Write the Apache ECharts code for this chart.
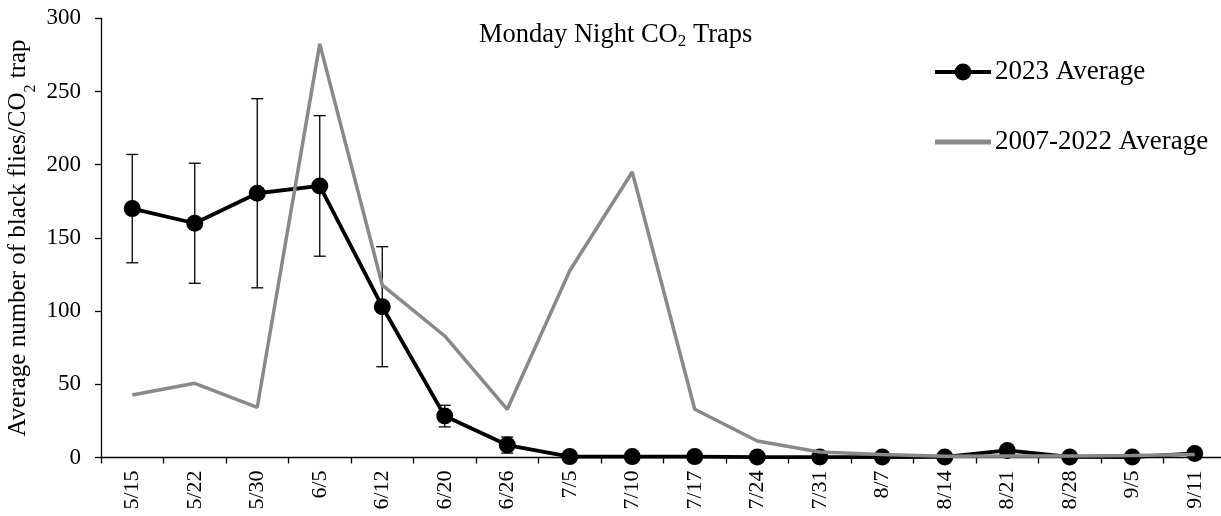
<!DOCTYPE html>
<html>
<head>
<meta charset="utf-8">
<script src="https://cdn.jsdelivr.net/npm/echarts@6/dist/echarts.min.js"></script>
<style>
  html, body { margin: 0; padding: 0; background: #fff; }
  #chart { width: 1221px; height: 516px; }
</style>
</head>
<body>
<div id="chart"></div>
<script>
// Sampling dates (Monday nights)
const dates = ['5/15','5/22','5/30','6/5','6/12','6/20','6/26','7/5','7/10','7/17','7/24','7/31','8/7','8/14','8/21','8/28','9/5','9/11'];
// 2023 mean catch per trap
const avg2023 = [170, 160, 180.5, 185.5, 103, 28.3, 8.5, 0.6, 0.6, 0.6, 0.3, 0.3, 0.3, 0.4, 4.8, 0.4, 0.3, 2.8];
// +/- error for 2023 means
const err2023 = [37, 41, 64.6, 48, 41, 7.4, 5.5, 0, 0, 0, 0, 0, 0, 0, 0, 0, 0, 0];
// Long-term mean, 2007-2022
const avgHist = [42.7, 50.7, 34.3, 282.5, 117.8, 83, 32.9, 127.6, 195, 33, 11.3, 3.8, 2, 0.8, 1, 1, 1.3, 2];
const yTicks = { min: 0, max: 300, step: 50 };

const serif = '"Liberation Serif", "DejaVu Serif", serif';
const chart = echarts.init(document.getElementById('chart'));

const errData = dates.map((d, i) => [i, avg2023[i] - err2023[i], avg2023[i] + err2023[i]]);

chart.setOption({
  animation: false,
  backgroundColor: '#fff',
  grid: { left: 101, right: -5, top: 18.3, bottom: 58.5, containLabel: false, outerBoundsMode: 'none' },
  title: {
    text: 'Monday Night CO{sub|2} Traps',
    left: 474, top: 15,
    textStyle: {
      fontFamily: serif, fontSize: 26.5, fontWeight: 'normal', color: '#000', lineHeight: 30,
      rich: { sub: { fontFamily: serif, fontSize: 17, verticalAlign: 'bottom', lineHeight: 30, padding: [12, 0, 0, 0], color: '#000' } }
    }
  },
  legend: {
    orient: 'vertical', left: 928, top: 53, itemGap: 42,
    itemWidth: 56, itemHeight: 21,
    lineStyle: { width: 4 },
    textStyle: { fontFamily: serif, fontSize: 27, lineHeight: 28, color: '#000', padding: [0, 0, 0, -1] },
    data: [
      { name: '2023 Average' },
      { name: '2007-2022 Average', icon: 'path://M0,0 L56,0 L56,5 L0,5 Z' }
    ]
  },
  xAxis: {
    type: 'category', data: dates, boundaryGap: true,
    axisLine: { lineStyle: { color: '#000', width: 1.3 } },
    axisTick: { show: true, length: 6, lineStyle: { color: '#000', width: 1.3 } },
    axisLabel: { rotate: 90, fontFamily: serif, fontSize: 22, color: '#000', margin: 13, interval: 0 }
  },
  yAxis: {
    type: 'value', min: yTicks.min, max: yTicks.max, interval: yTicks.step,
    name: 'Average number of black flies/CO{sub|2} trap',
    nameLocation: 'middle', nameGap: 70, nameMoveOverlap: false,
    nameTextStyle: {
      fontFamily: serif, fontSize: 25, color: '#000',
      rich: { sub: { fontFamily: serif, fontSize: 16, color: '#000', verticalAlign: 'bottom', padding: [0, 0, -8, 0] } }
    },
    splitLine: { show: false },
    axisLine: { show: true, lineStyle: { color: '#000', width: 1.3 } },
    axisTick: { show: true, length: 6, lineStyle: { color: '#000', width: 1.3 } },
    axisLabel: { fontFamily: serif, fontSize: 23, color: '#000', margin: 20 }
  },
  series: [
    {
      name: 'errors', type: 'custom', z: 2, silent: true,
      data: errData,
      renderItem: function (params, api) {
        const x = api.value(0);
        const lo = api.coord([x, api.value(1)]);
        const hi = api.coord([x, api.value(2)]);
        if (Math.abs(lo[1] - hi[1]) < 1) return null;
        const w = 6;
        const st = { stroke: '#000', lineWidth: 1.3 };
        return {
          type: 'group',
          children: [
            { type: 'line', shape: { x1: lo[0], y1: lo[1], x2: hi[0], y2: hi[1] }, style: st },
            { type: 'line', shape: { x1: lo[0] - w, y1: lo[1], x2: lo[0] + w, y2: lo[1] }, style: st },
            { type: 'line', shape: { x1: hi[0] - w, y1: hi[1], x2: hi[0] + w, y2: hi[1] }, style: st }
          ]
        };
      }
    },
    {
      name: '2023 Average', type: 'line', z: 3,
      data: avg2023,
      symbol: 'circle', symbolSize: 17,
      lineStyle: { color: '#000', width: 3.8 },
      itemStyle: { color: '#000' }
    },
    {
      name: '2007-2022 Average', type: 'line', z: 4,
      data: avgHist,
      symbol: 'none',
      lineStyle: { color: '#898989', width: 3.5 },
      itemStyle: { color: '#898989' }
    }
  ]
});
</script>
</body>
</html>
